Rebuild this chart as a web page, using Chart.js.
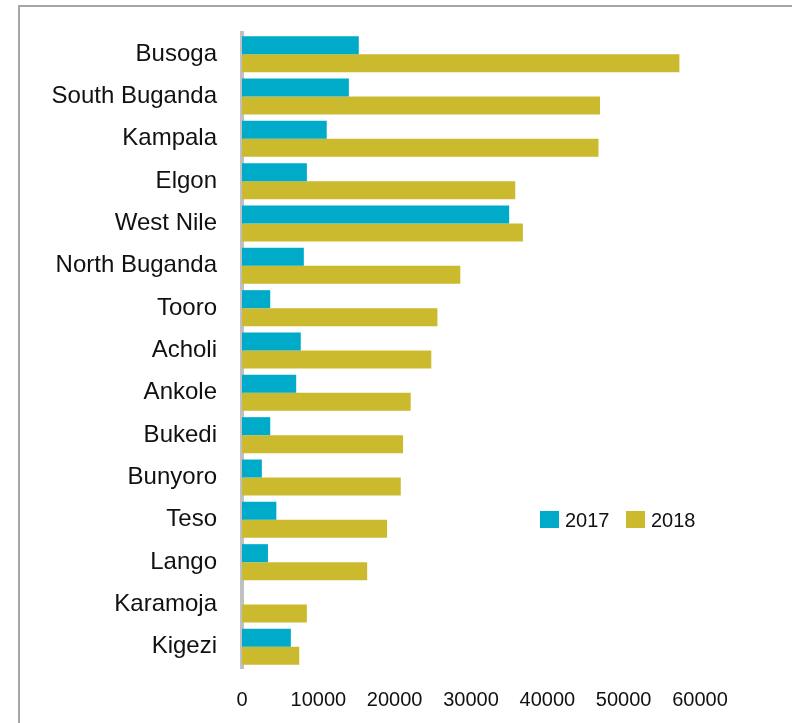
<!DOCTYPE html>
<html>
<head>
<meta charset="utf-8">
<script src="https://cdn.jsdelivr.net/npm/chart.js@4/dist/chart.umd.min.js"></script>
<style>
  html, body { margin: 0; padding: 0; background: #fff; overflow: hidden; }
  #frame { position: absolute; left: 18px; top: 5px; width: 900px; height: 900px; border: 2px solid #a6a6a6; }
  #wrap { position: absolute; left: 0; top: 0; width: 792px; height: 723px; }
</style>
</head>
<body>
<div id="frame"></div>
<div id="wrap"><canvas id="chart"></canvas></div>
<script>
var regions = ['Busoga', 'South Buganda', 'Kampala', 'Elgon', 'West Nile', 'North Buganda', 'Tooro',
  'Acholi', 'Ankole', 'Bukedi', 'Bunyoro', 'Teso', 'Lango', 'Karamoja', 'Kigezi'];
var years = ['2017', '2018'];
var values2017 = [15300, 14000, 11100, 8500, 35000, 8100, 3700, 7700, 7100, 3700, 2600, 4500, 3400, 0, 6400];
var values2018 = [57300, 46900, 46700, 35800, 36800, 28600, 25600, 24800, 22100, 21100, 20800, 19000, 16400, 8500, 7500];
var xTicks = [0, 10000, 20000, 30000, 40000, 50000, 60000];

var colors = ['#00abca', '#cbb92e'];
var numFont = "'Liberation Sans', Arial, sans-serif";

// legend drawn inside the plot, right of the Teso row
var insideLegend = {
  id: 'insideLegend',
  afterDraw: function(chart) {
    var ctx = chart.ctx;
    var x = 540, y = 520;
    ctx.save();
    ctx.font = '20px ' + numFont;
    ctx.textBaseline = 'middle';
    ctx.textAlign = 'left';
    chart.data.datasets.forEach(function(ds) {
      ctx.fillStyle = ds.backgroundColor;
      ctx.fillRect(x, y - 9, 19, 17);
      ctx.fillStyle = '#111';
      ctx.fillText(ds.label, x + 25, y + 1);
      x += 86;
    });
    ctx.restore();
  }
};

var chart = new Chart(document.getElementById('chart'), {
  type: 'bar',
  data: {
    labels: regions,
    datasets: [
      { label: years[0], data: values2017, backgroundColor: colors[0] },
      { label: years[1], data: values2018, backgroundColor: colors[1] }
    ]
  },
  options: {
    indexAxis: 'y',
    responsive: true,
    maintainAspectRatio: false,
    animation: false,
    layout: { padding: { left: 0, top: 33, right: 92, bottom: 0 } },
    datasets: { bar: { categoryPercentage: 0.85, barPercentage: 1.0 } },
    plugins: {
      legend: { display: false },
      tooltip: { enabled: false }
    },
    scales: {
      x: {
        min: 0,
        max: 60000,
        afterBuildTicks: function(scale) {
          scale.ticks = xTicks.map(function(v) { return { value: v }; });
        },
        afterFit: function(scale) { scale.height = 55; },
        grid: { display: false, drawTicks: false },
        border: { display: false },
        ticks: {
          padding: 20,
          color: '#111',
          font: { family: numFont, size: 20 },
          callback: function(v) { return String(v); }
        }
      },
      y: {
        z: 1,
        afterFit: function(scale) {
          scale.width = 242;
          scale.paddingTop = 0;
          scale.paddingBottom = 0;
        },
        grid: { display: false, drawTicks: false },
        border: { display: true, color: '#c0c0c0', width: 4 },
        ticks: {
          padding: 25,
          color: '#111',
          font: { family: "'Liberation Sans', Arial, sans-serif", size: 24 }
        }
      }
    }
  },
  plugins: [insideLegend]
});
</script>
</body>
</html>
